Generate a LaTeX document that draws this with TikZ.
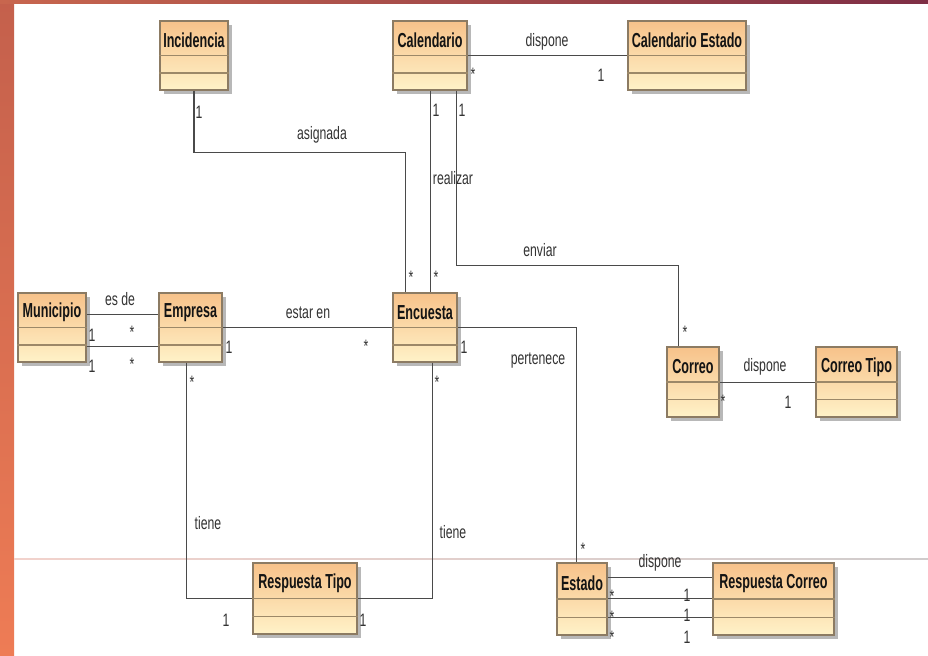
\documentclass[tikz,border=0pt]{standalone}
\usepackage{fontspec}
\setmainfont{Liberation Sans}
\newfontfamily\titlefont{Liberation Sans}[FakeStretch=0.62]
\newfontfamily\labfont{Liberation Sans}[FakeStretch=0.68]
\usetikzlibrary{calc,fit,shadows}
\definecolor{stripTop}{HTML}{C4604C}
\definecolor{stripMid}{HTML}{FFA26E}
\definecolor{stripBot}{HTML}{EE7C55}
\definecolor{topL}{HTML}{C8664E}
\definecolor{topR}{HTML}{7E2E45}
\definecolor{faintpink}{HTML}{F2D2CC}
\definecolor{faintgrey}{HTML}{D0CCCC}
\definecolor{boxtop}{HTML}{F7C28A}
\definecolor{boxbot}{HTML}{FFF2C8}
\definecolor{boxdraw}{HTML}{8C7B63}
\definecolor{clinec}{HTML}{9C8868}
\definecolor{connc}{HTML}{4A4A4A}
\definecolor{labc}{HTML}{333333}
\definecolor{titlec}{HTML}{141414}
\tikzset{
  clsbox/.style={draw=boxdraw, line width=0.8pt, inner sep=0pt, top color=boxtop, bottom color=boxbot,
     drop shadow={shadow xshift=3pt, shadow yshift=-3pt, fill=black, opacity=0.28}},
  cline/.style={draw=clinec, line width=0.8pt},
  ctitle/.style={font=\titlefont\bfseries\fontsize{15.2}{16}\selectfont, text=titlec, inner sep=0pt, yshift=-2pt},
  assoc/.style={draw=connc, line width=0.85pt},
  lab/.style={font=\labfont\fontsize{13.5}{14}\selectfont, text=labc, inner sep=0pt},
  mstar/.style={lab, yshift=-3pt}
}
\newcommand\umlcls[6]{%
  \node[clsbox, fit={(#2,#3) (#4,#5)}] (#1) {};
  \draw[cline] ($(#1.north west)!0.5!(#1.south west)$) -- ($(#1.north east)!0.5!(#1.south east)$);
  \draw[cline] ($(#1.north west)!0.75!(#1.south west)$) -- ($(#1.north east)!0.75!(#1.south east)$);
  \node[ctitle] (#1-t) at ($(#1.north)!0.25!(#1.south)$) {#6};
}
\begin{document}
\begin{tikzpicture}[x=0.75pt,y=-0.75pt]
\useasboundingbox (0,0) rectangle (928,656);
\fill[white] (0,0) rectangle (928,656);
\shade[top color=stripTop, middle color=stripMid, bottom color=stripBot] (0,0) rectangle (14,656);
\shade[left color=topL, right color=topR] (0,0) rectangle (928,4);
\shade[left color=faintpink, right color=faintgrey] (14,558.3) rectangle (928,559.8);

% classes
\umlcls{inc}{160}{21}{228}{90}{Incidencia}
\umlcls{cal}{393}{21}{467}{90}{Calendario}
\umlcls{cale}{628}{21}{746}{90}{Calendario Estado}
\umlcls{mun}{18}{293}{86}{362}{Municipio}
\umlcls{emp}{159}{293}{222}{362}{Empresa}
\umlcls{enc}{393}{293}{457}{362}{Encuesta}
\umlcls{cor}{667}{347}{719}{417}{Correo}
\umlcls{cort}{816}{347}{897}{417}{Correo Tipo}
\umlcls{rt}{253}{563}{357}{634}{Respuesta Tipo}
\umlcls{est}{557}{563}{607}{635}{Estado}
\umlcls{rc}{713}{563}{834}{635}{Respuesta Correo}

% associations
\draw[assoc] (inc.south) -- ++(0,62) -| ([xshift=9.75pt]enc.north west);
\draw[assoc] ([xshift=0.375pt]cal.south) -- ([xshift=0.375pt]cal.south |- enc.north);
\draw[assoc] ([xshift=-8.25pt]cal.south east) -- ++(0,175) -| ([xshift=9pt]cor.north west);
\draw[assoc] (cal.east) -- (cale.west);
\draw[assoc] ([yshift=-16.5pt]mun.north east) -- ([yshift=-16.5pt]mun.north east -| emp.west);
\draw[assoc] ([yshift=-40.5pt]mun.north east) -- ([yshift=-40.5pt]mun.north east -| emp.west);
\draw[assoc] (emp.east) -- (enc.west);
\draw[assoc] (enc.east) -| ([xshift=15pt]est.north west);
\draw[assoc] ([yshift=-0.375pt]cor.east) -- ([yshift=-0.375pt]cort.west);
\draw[assoc] ([xshift=21pt]emp.south west) |- (rt.west);
\draw[assoc] ([xshift=30pt]enc.south west) |- (rt.east);
\draw[assoc] ([yshift=-11.25pt]est.north east) -- ([yshift=-11.25pt]est.north east -| rc.west);
\draw[assoc] ([yshift=-27pt]est.north east) -- ([yshift=-27pt]est.north east -| rc.west);
\draw[assoc] ([yshift=-41.25pt]est.north east) -- ([yshift=-41.25pt]est.north east -| rc.west);

% labels
\node[lab] (m1) at (199,112) {1};
\node[lab] (m2) at (322,135) {asignada};
\node[mstar] (m3) at (411,273) {*};
\node[lab] (m4) at (436,110) {1};
\node[lab] (m5) at (453,178) {realizar};
\node[mstar] (m6) at (436,273) {*};
\node[lab] (m7) at (462,110) {1};
\node[lab] (m8) at (540,250) {enviar};
\node[mstar] (m9) at (685,328) {*};
\node[lab] (m10) at (547,42) {dispone};
\node[mstar] (m11) at (473,70) {*};
\node[lab] (m12) at (601,75) {1};
\node[lab] (m13) at (120,299) {es de};
\node[lab] (m14) at (92,335) {1};
\node[mstar] (m15) at (132,328) {*};
\node[lab] (m16) at (92,366) {1};
\node[mstar] (m17) at (132,360) {*};
\node[lab] (m18) at (308,313) {estar en};
\node[lab] (m19) at (229,347) {1};
\node[mstar] (m20) at (366,342) {*};
\node[lab] (m21) at (464,347) {1};
\node[lab] (m22) at (538,361) {pertenece};
\node[mstar] (m23) at (583,545) {*};
\node[lab] (m24) at (765,367) {dispone};
\node[mstar] (m25) at (723,397) {*};
\node[lab] (m26) at (788,402) {1};
\node[mstar] (m27) at (192,378) {*};
\node[lab] (m28) at (208,523) {tiene};
\node[lab] (m29) at (226,620) {1};
\node[mstar] (m30) at (437,378) {*};
\node[lab] (m31) at (453,532) {tiene};
\node[lab] (m32) at (363,620) {1};
\node[lab] (m33) at (660,563) {dispone};
\node[mstar] (m34) at (612,592) {*};
\node[mstar] (m35) at (612,613) {*};
\node[mstar] (m36) at (612,633) {*};
\node[lab] (m37) at (687,595) {1};
\node[lab] (m38) at (687,615) {1};
\node[lab] (m39) at (687,637) {1};
\end{tikzpicture}
\end{document}
